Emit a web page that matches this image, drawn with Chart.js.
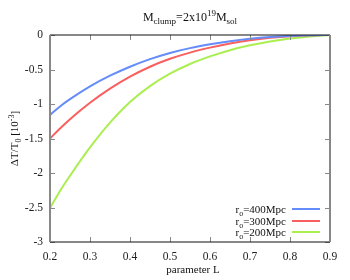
<!DOCTYPE html>
<html>
<head>
<meta charset="utf-8">
<script src="https://cdn.jsdelivr.net/npm/chart.js@4"></script>
<style>
  html, body { margin: 0; padding: 0; background: #fff; }
  #wrap { width: 350px; height: 280px; }
</style>
</head>
<body>
<div id="wrap"><canvas id="chart" width="350" height="280"></canvas></div>
<script>
// parameter L
const xValues = [0.2, 0.225, 0.25, 0.3, 0.35, 0.4, 0.45, 0.5, 0.55, 0.6, 0.65, 0.7, 0.75, 0.8, 0.85, 0.9];
// dT/T0 in units of 1e-3
const r400 = [-1.16, -1.035, -0.93, -0.745, -0.59, -0.46, -0.35, -0.26, -0.19, -0.135, -0.09, -0.055, -0.03, -0.014, -0.004, 0];
const r300 = [-1.50, -1.355, -1.22, -0.982, -0.778, -0.604, -0.46, -0.345, -0.255, -0.183, -0.123, -0.076, -0.041, -0.017, -0.005, 0];
const r200 = [-2.51, -2.26, -2.04, -1.63, -1.27, -0.97, -0.74, -0.56, -0.42, -0.31, -0.22, -0.15, -0.095, -0.052, -0.02, 0];
const seriesNames = ['400Mpc', '300Mpc', '200Mpc'];
const xTicks = [0.2, 0.3, 0.4, 0.5, 0.6, 0.7, 0.8, 0.9];
const yTicks = [0, -0.5, -1, -1.5, -2, -2.5, -3];

const colors = ['rgb(100,140,250)', 'rgb(250,95,95)', 'rgb(170,238,80)'];
const serif = "'Liberation Serif', 'Times New Roman', serif";

const toPoints = (ys) => xValues.map((x, i) => ({ x: x, y: ys[i] }));

// text made of pieces [text, size, dy]
function richWidth(ctx, parts) {
  let w = 0;
  parts.forEach(p => { ctx.font = p[1] + 'px ' + serif; w += ctx.measureText(p[0]).width; });
  return w;
}
function drawRich(ctx, parts, x, y) {
  parts.forEach(p => {
    ctx.font = p[1] + 'px ' + serif;
    ctx.fillText(p[0], x, y + p[2]);
    x += ctx.measureText(p[0]).width;
  });
}

const decor = {
  id: 'decor',
  afterDraw(chart) {
    const ctx = chart.ctx;
    const a = chart.chartArea;
    const xs = chart.scales.x, ys = chart.scales.y;
    ctx.save();

    // inward ticks
    ctx.strokeStyle = '#888';
    ctx.lineWidth = 1;
    ctx.beginPath();
    xTicks.forEach(t => {
      const px = Math.round(xs.getPixelForValue(t)) + 0.5;
      ctx.moveTo(px, a.bottom); ctx.lineTo(px, a.bottom - 5);
      ctx.moveTo(px, a.top); ctx.lineTo(px, a.top + 5);
    });
    yTicks.forEach(t => {
      const py = Math.round(ys.getPixelForValue(t)) + 0.5;
      ctx.moveTo(a.left, py); ctx.lineTo(a.left + 5, py);
      ctx.moveTo(a.right, py); ctx.lineTo(a.right - 5, py);
    });
    ctx.stroke();

    // frame
    ctx.strokeStyle = '#111';
    ctx.lineWidth = 1.2;
    ctx.beginPath();
    ctx.moveTo(a.left, a.top); ctx.lineTo(a.right, a.top);
    ctx.moveTo(a.left, a.bottom); ctx.lineTo(a.right, a.bottom);
    ctx.stroke();
    ctx.strokeStyle = '#888';
    ctx.lineWidth = 2;
    ctx.beginPath();
    ctx.moveTo(a.left, a.top); ctx.lineTo(a.left, a.bottom);
    ctx.moveTo(a.right, a.top); ctx.lineTo(a.right, a.bottom);
    ctx.stroke();

    ctx.fillStyle = '#111';
    ctx.textBaseline = 'alphabetic';
    ctx.textAlign = 'left';

    // title
    const title = [['M', 12, 0], ['clump', 9, 3], ['=2x10', 12, 0], ['19', 9, -5], ['M', 12, 0], ['sol', 9, 3]];
    const cx = (a.left + a.right) / 2;
    drawRich(ctx, title, cx - richWidth(ctx, title) / 2, 21);

    // x title
    const xt = [['parameter L', 11, 0]];
    drawRich(ctx, xt, cx + 3 - richWidth(ctx, xt) / 2, 273);

    // y title (rotated)
    const yt = [['\u0394T/T', 11, 0], ['0', 8, 3], [' [10', 11, 0], ['-3', 8, -4], [']', 11, 0]];
    ctx.save();
    ctx.translate(18, (a.top + a.bottom) / 2);
    ctx.rotate(-Math.PI / 2);
    drawRich(ctx, yt, -richWidth(ctx, yt) / 2, 0);
    ctx.restore();

    // legend
    const rows = [209, 221, 232];
    seriesNames.forEach((name, i) => {
      const parts = [['r', 11, 0], ['o', 8, 3], ['=' + name, 11, 0]];
      ctx.fillStyle = '#111';
      drawRich(ctx, parts, 286 - richWidth(ctx, parts), rows[i] + 4);
      ctx.strokeStyle = colors[i];
      ctx.lineWidth = 2;
      ctx.beginPath();
      ctx.moveTo(292, rows[i]); ctx.lineTo(320, rows[i]);
      ctx.stroke();
    });
    ctx.restore();
  }
};

const fmt = (v) => String(Number(v.toFixed(1)));

function draw() {
  new Chart(document.getElementById('chart').getContext('2d'), {
    type: 'line',
    data: {
      datasets: [r400, r300, r200].map((ys, i) => ({
        label: seriesNames[i],
        data: toPoints(ys),
        borderColor: colors[i],
        borderWidth: 2,
        pointRadius: 0,
        fill: false,
        cubicInterpolationMode: 'monotone',
      })),
    },
    options: {
      responsive: false,
      animation: false,
      layout: { padding: { top: 35, right: 20, left: 0, bottom: 0 } },
      plugins: { legend: { display: false }, tooltip: { enabled: false } },
      scales: {
        x: {
          type: 'linear',
          min: 0.2, max: 0.9,
          grid: { display: false, drawTicks: false },
          border: { display: false },
          afterFit: (s) => { s.height = 38; },
          afterBuildTicks: (s) => { s.ticks = xTicks.map(v => ({ value: v })); },
          ticks: { padding: 8, color: '#222', font: { family: serif, size: 11.5 }, maxRotation: 0, callback: fmt },
        },
        y: {
          min: -3, max: 0,
          grid: { display: false, drawTicks: false },
          border: { display: false },
          afterFit: (s) => { s.width = 50; },
          afterBuildTicks: (s) => { s.ticks = yTicks.map(v => ({ value: v })); },
          ticks: { padding: 7, color: '#222', font: { family: serif, size: 11.5 }, callback: fmt },
        },
      },
    },
    plugins: [decor],
  });
}

Promise.all([
  document.fonts.load("11px 'Liberation Serif'"),
  document.fonts.load("9px 'Liberation Serif'"),
]).then(draw, draw);
</script>
</body>
</html>
